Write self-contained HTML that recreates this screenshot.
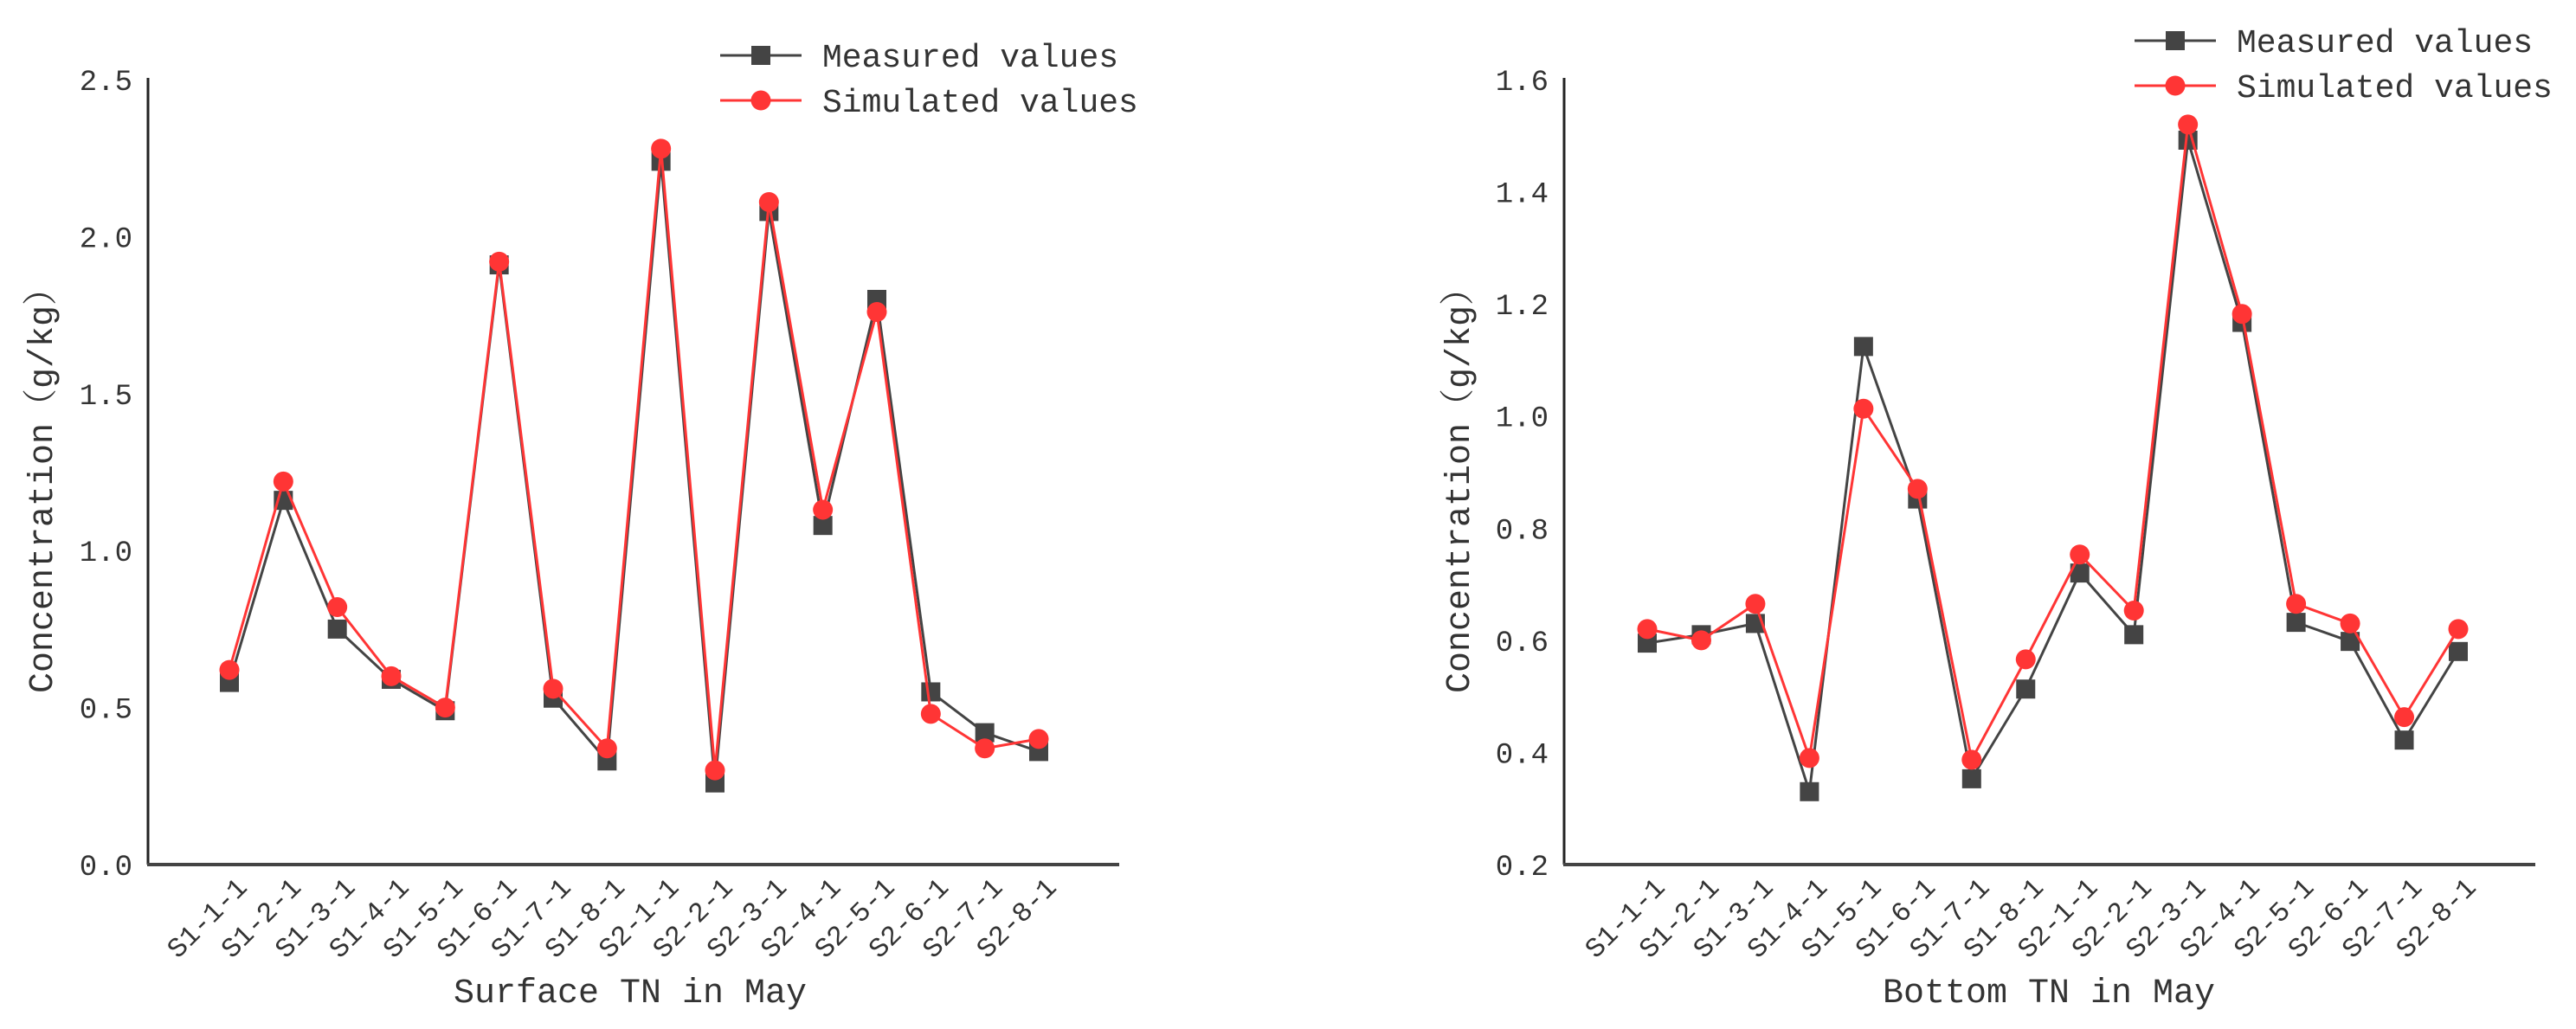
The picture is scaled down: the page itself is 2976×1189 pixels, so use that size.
<!DOCTYPE html>
<html><head><meta charset="utf-8">
<style>
html,body{margin:0;padding:0;background:#fff;}
svg{display:block;}
text{font-family:"Liberation Mono","Noto Serif CJK SC",monospace;fill:#333;}
</style></head>
<body>
<svg id="chart" width="2976" height="1189" viewBox="0 0 2976 1189" xmlns="http://www.w3.org/2000/svg"></svg>
<script>
const categories = ["S1-1-1","S1-2-1","S1-3-1","S1-4-1","S1-5-1","S1-6-1","S1-7-1","S1-8-1","S2-1-1","S2-2-1","S2-3-1","S2-4-1","S2-5-1","S2-6-1","S2-7-1","S2-8-1"];
const surfaceMeasured = [0.58,1.16,0.75,0.59,0.49,1.91,0.53,0.33,2.24,0.26,2.08,1.08,1.80,0.55,0.42,0.36];
const surfaceSimulated = [0.62,1.22,0.82,0.60,0.50,1.92,0.56,0.37,2.28,0.30,2.11,1.13,1.76,0.48,0.37,0.40];
const bottomMeasured = [0.595,0.61,0.63,0.33,1.124,0.852,0.353,0.513,0.72,0.61,1.492,1.167,0.632,0.598,0.422,0.58];
const bottomSimulated = [0.62,0.60,0.665,0.39,1.013,0.87,0.387,0.566,0.753,0.653,1.52,1.182,0.665,0.63,0.463,0.62];
const surfaceTicks = ["0.0","0.5","1.0","1.5","2.0","2.5"];
const bottomTicks = ["0.2","0.4","0.6","0.8","1.0","1.2","1.4","1.6"];

const NS = "http://www.w3.org/2000/svg";
const svg = document.getElementById("chart");
function mk(tag, attrs, parent){
  const e = document.createElementNS(NS, tag);
  for (const k in attrs) e.setAttribute(k, attrs[k]);
  (parent||svg).appendChild(e);
  return e;
}

function drawPanel(cfg){
  const g = mk("g", {});
  
  
  const yMin = parseFloat(cfg.ticks[0]), yMax = parseFloat(cfg.ticks[cfg.ticks.length-1]);
  const y = v => cfg.yBottom - (v - yMin) / (yMax - yMin) * (cfg.yBottom - cfg.yTop);
  const x = i => cfg.xFirst + i * (cfg.xLast - cfg.xFirst) / (categories.length - 1);

  // axes
  const ya = mk("line", {x1:cfg.axisX, y1:cfg.yTop-2, x2:cfg.axisX, y2:cfg.yBottom, stroke:"#222", "stroke-width":3}, g);
  
  
  const xa = mk("line", {x1:cfg.axisX-1, y1:cfg.yBottom, x2:cfg.axisRight, y2:cfg.yBottom, stroke:"#444", "stroke-width":4}, g);
  
  

  cfg.ticks.forEach(t => {
    const tx = mk("text", {x:cfg.axisX-18, y:y(parseFloat(t))+12, "text-anchor":"end", "font-size":34, fill:"#555"}, g);
    tx.textContent = t;
    
    
  });

  categories.forEach((c, i) => {
    const px = x(i) + 22, py = cfg.yBottom + 28;
    const tx = mk("text", {x:px, y:py, "text-anchor":"end", "font-size":32, fill:"#444", transform:`rotate(-45 ${px} ${py})`}, g);
    tx.textContent = c;
    
    
  });

  const yt = mk("text", {x:0, y:0, "text-anchor":"middle", "font-size":40, fill:"#333", transform:`translate(${cfg.yTitleX} ${cfg.yTitleY}) rotate(-90)`}, g);
  yt.textContent = "Concentration（g/kg）";
  
  

  const xt = mk("text", {x:cfg.xTitleX, y:1158, "text-anchor":"middle", "font-size":40, fill:"#333"}, g);
  xt.textContent = cfg.xTitle;
  
  

  // series
  const mPts = cfg.measured.map((v,i)=>x(i)+","+y(v)).join(" ");
  const sPts = cfg.simulated.map((v,i)=>x(i)+","+y(v)).join(" ");
  const ml = mk("polyline", {points:mPts, fill:"none", stroke:"#444", "stroke-width":3}, g);
  
  
  cfg.measured.forEach((v,i) => {
    const r = mk("rect", {x:x(i)-11, y:y(v)-11, width:22, height:22, fill:"#444"}, g);
    
    
  });
  const sl = mk("polyline", {points:sPts, fill:"none", stroke:"#ff3535", "stroke-width":3}, g);
  
  
  cfg.simulated.forEach((v,i) => {
    const c = mk("circle", {cx:x(i), cy:y(v), r:11.5, fill:"#ff3535"}, g);
    
    
  });

  // legend
  const lg = mk("g", {}, g);
  
  
  const L = cfg.legend;
  const e1 = mk("line", {x1:L.x, y1:L.y1, x2:L.x+94, y2:L.y1, stroke:"#444", "stroke-width":3}, lg);
  
  
  const e1m = mk("rect", {x:L.x+47-11, y:L.y1-11, width:22, height:22, fill:"#444"}, lg);
  
  
  const t1 = mk("text", {x:L.tx, y:L.y1+13, "font-size":38, fill:"#333"}, lg);
  t1.textContent = "Measured values";
  
  
  const e2 = mk("line", {x1:L.x, y1:L.y2, x2:L.x+94, y2:L.y2, stroke:"#ff3535", "stroke-width":3}, lg);
  
  
  const e2m = mk("circle", {cx:L.x+47, cy:L.y2, r:11.5, fill:"#ff3535"}, lg);
  
  
  const t2 = mk("text", {x:L.tx, y:L.y2+13, "font-size":38, fill:"#333"}, lg);
  t2.textContent = "Simulated values";
  
  
}

drawPanel({name:"surface-tn-chart", ticks:surfaceTicks, measured:surfaceMeasured, simulated:surfaceSimulated,
  axisX:171, axisRight:1293, yTop:92, yBottom:999, xFirst:265, xLast:1200,
  yTitleX:60, yTitleY:557, xTitleX:728, xTitle:"Surface TN in May",
  legend:{x:832, tx:950, y1:64, y2:116}});
drawPanel({name:"bottom-tn-chart", ticks:bottomTicks, measured:bottomMeasured, simulated:bottomSimulated,
  axisX:1807, axisRight:2929, yTop:92, yBottom:999, xFirst:1903, xLast:2840,
  yTitleX:1697, yTitleY:557, xTitleX:2367, xTitle:"Bottom TN in May",
  legend:{x:2466, tx:2584, y1:47, y2:99}});
</script>
</body></html>
